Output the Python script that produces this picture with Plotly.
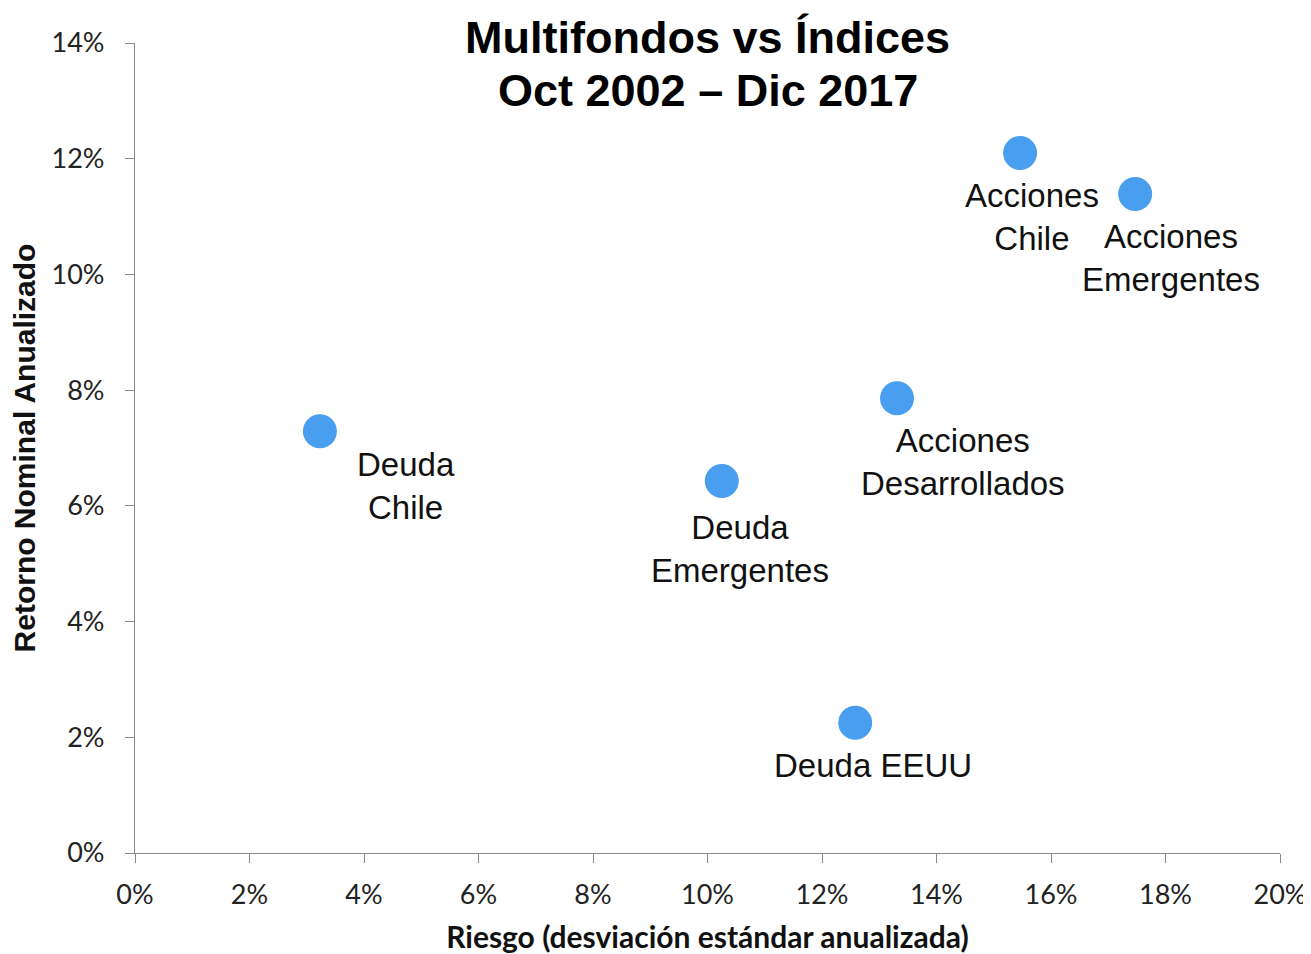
import plotly.graph_objects as go

names = ["Deuda<br>Chile", "Deuda<br>Emergentes", "Deuda EEUU", "Acciones<br>Desarrollados",
         "Acciones<br>Chile", "Acciones<br>Emergentes"]
riesgo = [3.23, 10.25, 12.58, 13.31, 15.46, 17.47]
retorno = [7.29, 6.43, 2.25, 7.86, 12.10, 11.39]
# label offsets in pixels (dx, dy) relative to each point (styling)
label_dx = [86, 18, 18, 66, 12, 36]
label_dy = [-55, -68, -43, -64, -64, -64]

title_lines = ["Multifondos vs Índices", "Oct 2002 – Dic 2017"]

x_ticks = list(range(0, 21, 2))
y_ticks = list(range(0, 15, 2))

fig = go.Figure()
fig.add_trace(go.Scatter(
    x=riesgo, y=retorno, mode="markers",
    marker=dict(size=34, color="#4A9EF0", line=dict(width=0)),
    showlegend=False, hoverinfo="skip"))

for n, xv, yv, dx, dy in zip(names, riesgo, retorno, label_dx, label_dy):
    fig.add_annotation(x=xv, y=yv, text=n, showarrow=False, xshift=dx, yshift=dy,
                       font=dict(family="Liberation Sans, Arial", size=33, color="#111111"),
                       align="center")

# title (two lines placed separately for tighter spacing)
for line, ypos in zip(title_lines, [1 + 6 / 810, 1 - 48 / 810]):
    fig.add_annotation(xref="paper", yref="paper", x=0.5, y=ypos, yanchor="middle",
                       xanchor="center", showarrow=False, text=f"<b>{line}</b>",
                       font=dict(family="Liberation Sans, Arial", size=45, color="black"))

tickfont = dict(family="Lato, Open Sans", size=27, color="#222222")
fig.update_layout(
    width=1303, height=946,
    paper_bgcolor="white", plot_bgcolor="white",
    margin=dict(l=127, r=31, t=35, b=101),
    xaxis=dict(range=[0, 20], tickvals=x_ticks, ticktext=[f"{v}%" for v in x_ticks],
               automargin=False, ticklabelstandoff=8,
               showgrid=False, zeroline=False, showline=True, linecolor="#8a8a8a", linewidth=1.3,
               ticks="outside", ticklen=9, tickcolor="#8a8a8a", tickwidth=1.3,
               tickfont=tickfont,
               title=dict(text="<b>Riesgo (desviación estándar anualizada)</b>", standoff=19,
                          font=dict(family="Lato, Open Sans", size=30, color="#111111"))),
    yaxis=dict(range=[0, 14], tickvals=y_ticks, ticktext=[f"{v}%" for v in y_ticks],
               automargin=False, ticklabelstandoff=15,
               showgrid=False, zeroline=False, showline=True, linecolor="#8a8a8a", linewidth=1.3,
               ticks="outside", ticklen=9, tickcolor="#8a8a8a", tickwidth=1.3,
               tickfont=tickfont,
               title=dict(text="<b>Retorno Nominal Anualizado</b>", standoff=16,
                          font=dict(family="Liberation Sans, Arial", size=30, color="#111111"))),
)

fig.write_html("out.html")
